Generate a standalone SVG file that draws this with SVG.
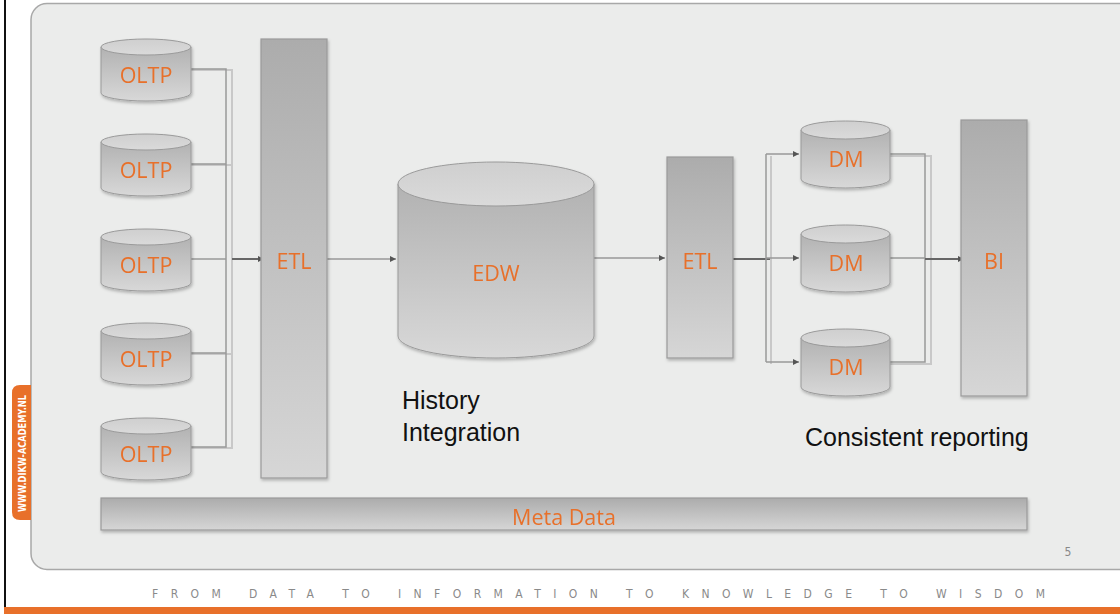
<svg xmlns="http://www.w3.org/2000/svg" width="1120" height="614" viewBox="0 0 1120 614">
<defs>
<linearGradient id="gBody" x1="0" y1="0" x2="0" y2="1"><stop offset="0" stop-color="#b2b2b2"/><stop offset="1" stop-color="#d8d8d8"/></linearGradient>
<linearGradient id="gTop" x1="0" y1="0" x2="0" y2="1"><stop offset="0" stop-color="#cfcfcf"/><stop offset="1" stop-color="#dadada"/></linearGradient>
<linearGradient id="gRect" x1="0" y1="0" x2="0" y2="1"><stop offset="0" stop-color="#acacac"/><stop offset="1" stop-color="#d6d6d6"/></linearGradient>
<filter id="sh" x="-10%" y="-10%" width="130%" height="130%"><feDropShadow dx="1" dy="2" stdDeviation="1.5" flood-color="#000" flood-opacity="0.25"/></filter>
<marker id="ah" markerWidth="8" markerHeight="8" refX="6" refY="3" orient="auto" markerUnits="userSpaceOnUse"><path d="M0,0 L6,3 L0,6 Z" fill="#555"/></marker>
<style>
.body{fill:url(#gBody);stroke:#9a9a9a;stroke-width:1}
.top{fill:url(#gTop);stroke:#9a9a9a;stroke-width:1}
.box{fill:url(#gRect);stroke:#9a9a9a;stroke-width:1.2}
.lbl{font-family:"Open Sans","Liberation Sans",sans-serif;font-size:21.5px;fill:#e8702a;text-anchor:middle}
.cap{font-family:"Liberation Sans",Arial,sans-serif;font-size:25px;fill:#111}
.ln{fill:none;stroke:#999;stroke-width:1.5}
.lns{fill:none;stroke:#c8c8c8;stroke-width:2}
.arr{fill:none;stroke:#666;stroke-width:2}
</style>
</defs>
<rect x="0" y="0" width="1120" height="614" fill="#fff"/>
<rect x="4" y="-2" width="2" height="610" fill="#111"/>
<rect x="4" y="607" width="1116" height="7" fill="#e8702a"/>
<rect id="panel" x="31" y="3.5" width="1110" height="566" rx="16" fill="#ebeceb" stroke="#a8a8a8" stroke-width="1.5"/>
<g id="tab">
<path d="M31,385 H20 Q12,385 12,393 V512 Q12,520 20,520 H31 Z" fill="#e8702a"/>
<text transform="translate(25.5,512) rotate(-90)" font-family="'DejaVu Sans Condensed','Liberation Sans',sans-serif" font-weight="bold" font-size="10" fill="#fff" textLength="117" lengthAdjust="spacingAndGlyphs">WWW.DIKW-ACADEMY.NL</text>
</g>

<g id="connectors">
<path class="lns" d="M191,70 H232 V448 H191 M191,165 H232 M191,354 H232"/>
<path class="ln" d="M191,69 H226 V447 H191 M191,164 H226 M191,259 H226 M191,353 H226"/>
<path class="arr" d="M232,259 H264" marker-end="url(#ah)"/>
<path class="ln" d="M327,259 H396" marker-end="url(#ah)"/>
<path class="ln" d="M594,258 H665" marker-end="url(#ah)"/>
<path class="arr" d="M733,259 H771"/>
<path class="lns" d="M771,156 V364"/>
<path class="ln" d="M766,154 V362 M766,362 H799" marker-end="url(#ah)"/>
<path class="ln" d="M766,154 H799" marker-end="url(#ah)"/>
<path class="ln" d="M766,258 H799" marker-end="url(#ah)"/>
<path class="lns" d="M890,156 H931 V364 H890"/>
<path class="ln" d="M890,154 H925 V362 H890 M890,258 H925"/>
<path class="arr" d="M925,259 H964" marker-end="url(#ah)"/>
</g>

<g id="oltp1" filter="url(#sh)"><path class="body" d="M101,47 V93 A45,8 0 0 0 191,93 V47 Z"/><ellipse class="top" cx="146" cy="47" rx="45" ry="8"/><text class="lbl" x="146" y="83">OLTP</text></g>
<g id="oltp2" filter="url(#sh)"><path class="body" d="M101,142 V188 A45,8 0 0 0 191,188 V142 Z"/><ellipse class="top" cx="146" cy="142" rx="45" ry="8"/><text class="lbl" x="146" y="178">OLTP</text></g>
<g id="oltp3" filter="url(#sh)"><path class="body" d="M101,237 V283 A45,8 0 0 0 191,283 V237 Z"/><ellipse class="top" cx="146" cy="237" rx="45" ry="8"/><text class="lbl" x="146" y="273">OLTP</text></g>
<g id="oltp4" filter="url(#sh)"><path class="body" d="M101,331 V377 A45,8 0 0 0 191,377 V331 Z"/><ellipse class="top" cx="146" cy="331" rx="45" ry="8"/><text class="lbl" x="146" y="367">OLTP</text></g>
<g id="oltp5" filter="url(#sh)"><path class="body" d="M101,426 V472 A45,8 0 0 0 191,472 V426 Z"/><ellipse class="top" cx="146" cy="426" rx="45" ry="8"/><text class="lbl" x="146" y="462">OLTP</text></g>

<g id="etl1" filter="url(#sh)"><rect class="box" x="261" y="39" width="66" height="439"/><text class="lbl" x="294" y="269">ETL</text></g>

<g id="edw" filter="url(#sh)"><path class="body" d="M398,184 V336 A98,22 0 0 0 594,336 V184 Z"/><ellipse class="top" cx="496" cy="184" rx="98" ry="22"/><text class="lbl" x="496" y="281">EDW</text></g>

<g id="etl2" filter="url(#sh)"><rect class="box" x="667" y="157" width="66" height="201"/><text class="lbl" x="700" y="269">ETL</text></g>

<g id="dm1" filter="url(#sh)"><path class="body" d="M801,130 V179 A44.5,9 0 0 0 890,179 V130 Z"/><ellipse class="top" cx="845.5" cy="130" rx="44.5" ry="9"/><text class="lbl" x="846" y="167">DM</text></g>
<g id="dm2" filter="url(#sh)"><path class="body" d="M801,234 V283 A44.5,9 0 0 0 890,283 V234 Z"/><ellipse class="top" cx="845.5" cy="234" rx="44.5" ry="9"/><text class="lbl" x="846" y="271">DM</text></g>
<g id="dm3" filter="url(#sh)"><path class="body" d="M801,338 V387 A44.5,9 0 0 0 890,387 V338 Z"/><ellipse class="top" cx="845.5" cy="338" rx="44.5" ry="9"/><text class="lbl" x="846" y="375">DM</text></g>

<g id="bi" filter="url(#sh)"><rect class="box" x="961" y="120" width="66" height="276"/><text class="lbl" x="994" y="269">BI</text></g>

<g id="meta" filter="url(#sh)"><rect class="box" x="101" y="498" width="926" height="32"/><text class="lbl" x="564" y="525">Meta Data</text></g>

<text class="cap" x="402" y="409">History</text>
<text class="cap" x="402" y="441">Integration</text>
<text class="cap" x="805" y="446">Consistent reporting</text>
<text x="1068" y="556" font-family="'DejaVu Sans Condensed','Liberation Sans',sans-serif" font-size="12" fill="#888" text-anchor="middle">5</text>
<text x="152" y="598" font-family="'DejaVu Sans Condensed','Liberation Sans',sans-serif" font-size="12" fill="#8a8a8a" textLength="893" lengthAdjust="spacing">FROM DATA TO INFORMATION TO KNOWLEDGE TO WISDOM</text>
</svg>
